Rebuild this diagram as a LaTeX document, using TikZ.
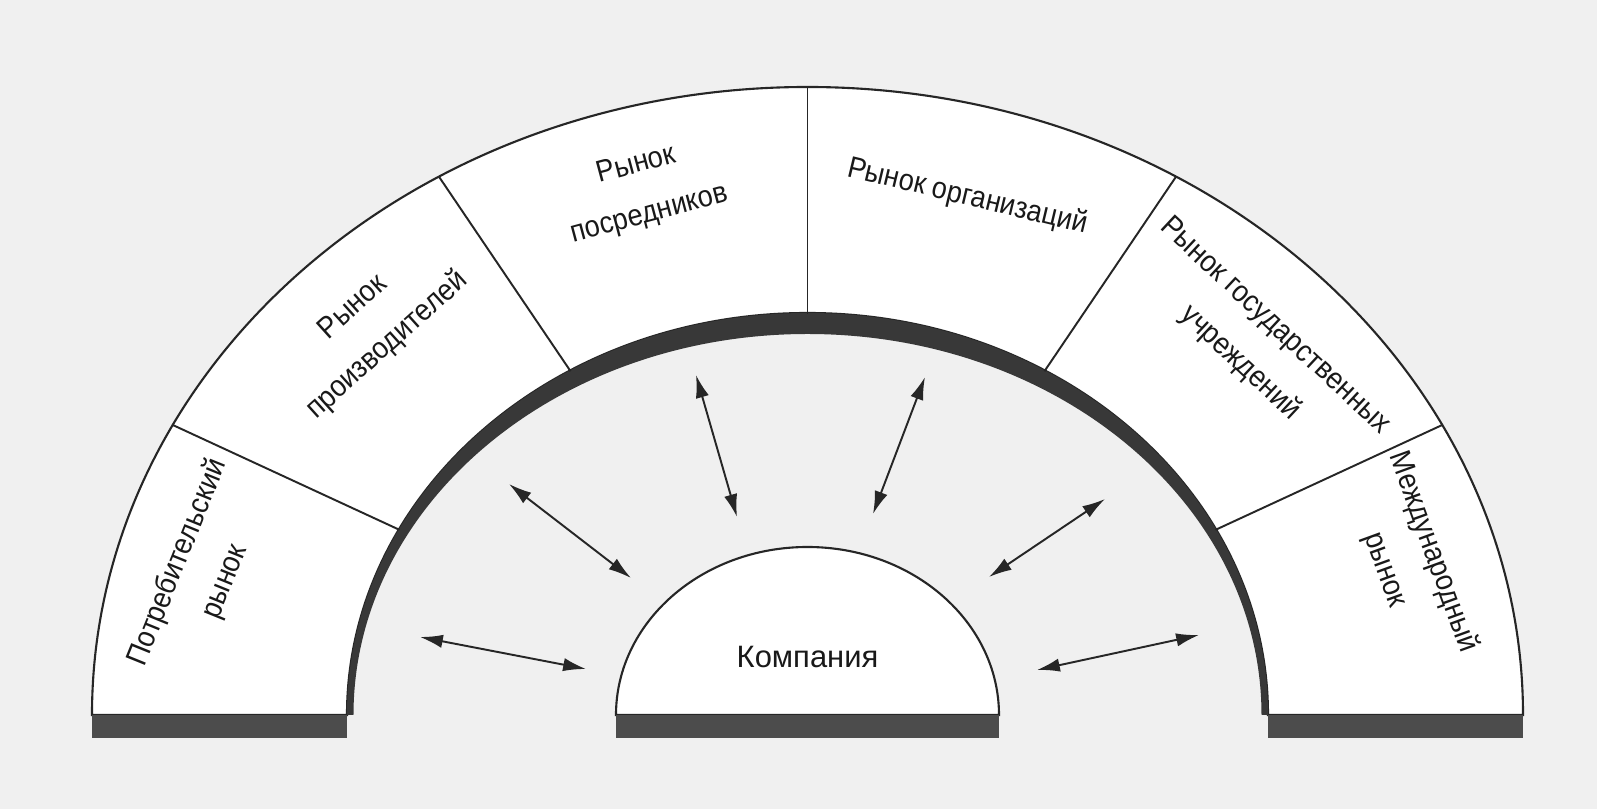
\documentclass[tikz,border=0pt]{standalone}
\usepackage{fontspec}
\setmainfont{Liberation Sans}
\newfontfamily\lblfont[FakeStretch=0.9]{Liberation Sans}
\usetikzlibrary{arrows.meta}

\begin{document}
\begin{tikzpicture}[
  ring/.style={fill=white, draw=black!85, line width=0.6pt},
  sep/.style={draw=black!85, line width=0.55pt},
  rim/.style={fill=black!78},
  base/.style={fill=black!70},
  lbl/.style={font=\fontsize{8.6}{14.5}\lblfont, align=center, text=black!90, inner sep=1pt},
  arr/.style={{Latex[length=6.5pt,width=3.8pt]}-{Latex[length=6.5pt,width=3.8pt]}, line width=0.55pt, black!85},
]

% --- Canvas ---
\useasboundingbox[fill=black!6] (-8.075,-0.94) rectangle (7.895,7.15);

% --- Outer half ring ---
\path[ring] (7.155,0) arc[start angle=0, end angle=180, x radius=7.155, y radius=6.28]
  -- (-4.605,0) arc[start angle=180, end angle=0, x radius=4.605, y radius=4.02] -- cycle;

% thick inner rim
\fill[rim] (4.605,0) arc[start angle=0, end angle=180, x radius=4.605, y radius=4.02]
  -- (-4.54,0) arc[start angle=180, end angle=0, x radius=4.54, y radius=3.81] -- cycle;

\foreach \a in {27.5,59,90,121,152.5} { \draw[sep] (\a:4.6 and 4.01) -- (\a:7.155 and 6.28); }

% --- Company ---
\path[ring] (1.915,0) arc[start angle=0, end angle=180, x radius=1.915, y radius=1.68] -- cycle;
\node[lbl, font=\fontsize{8.8}{14}\selectfont] (comp) at (0,0.58) {Компания};

% --- Base bars ---
\fill[base] (-7.155,0) rectangle (-4.605,-0.23);
\fill[base] (-1.915,0) rectangle (1.915,-0.23);
\fill[base] (4.605,0) rectangle (7.155,-0.23);

% --- Market labels ---
\node[lbl, rotate=68] (cons) at (-6.06,1.43) {Потребительский\\рынок};
\node[lbl, rotate=42] (prod) at (-4.37,3.88) {Рынок\\производителей};
\node[lbl, rotate=15] (resel) at (-1.645,5.25) {Рынок\\посредников};
\node[lbl, rotate=-13.5] (org) at (1.60,5.18) {Рынок организаций};
\node[lbl, rotate=-43] (gov) at (4.50,3.70) {Рынок государственных\\учреждений};
\node[lbl, rotate=-70] (intl) at (6.015,1.54) {Международный\\рынок};

% --- Arrows ---
\coordinate (o1) at (-3.875,0.78); \coordinate (i1) at (-2.215,0.46);
\coordinate (o2) at (-2.985,2.31); \coordinate (i2) at (-1.765,1.37);
\coordinate (o3) at (-1.115,3.40); \coordinate (i3) at (-0.705,1.98);
\coordinate (o4) at (1.175,3.38);  \coordinate (i4) at (0.655,2.01);
\coordinate (o5) at (2.975,2.16);  \coordinate (i5) at (1.815,1.38);
\coordinate (o6) at (3.915,0.80);  \coordinate (i6) at (2.295,0.45);
\foreach \i in {1,...,6} { \draw[arr] (o\i) -- (i\i); }

\end{tikzpicture}
\end{document}
